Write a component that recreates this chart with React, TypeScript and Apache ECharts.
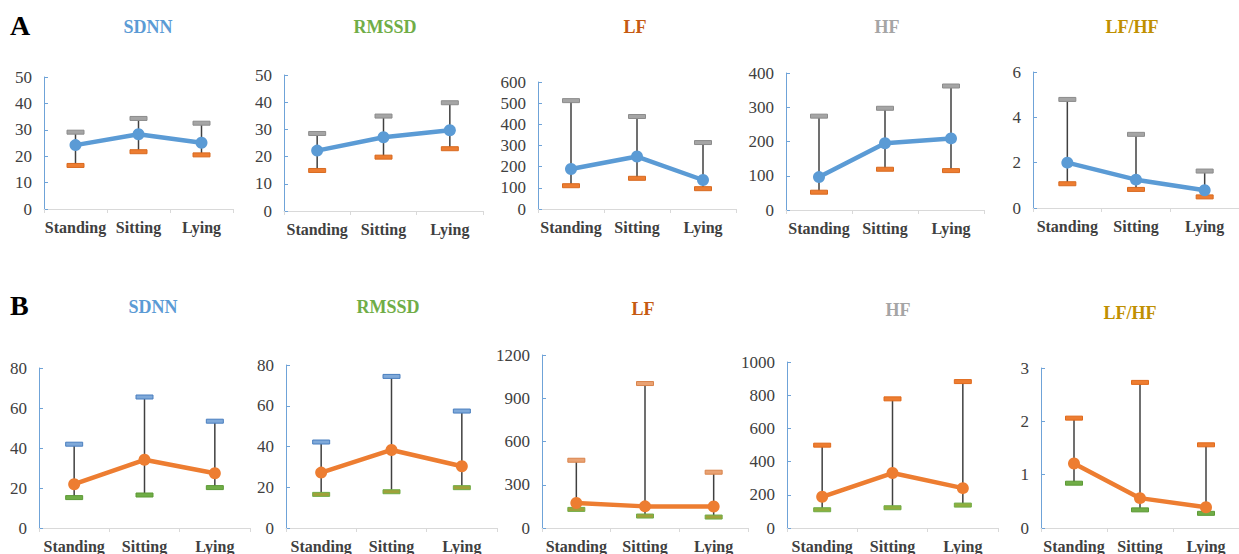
import React, { useEffect, useRef } from "react";
import * as echarts from "echarts";

const categories = ["Standing", "Sitting", "Lying"];

// Row A
const sdnnA = [24.2, 28.3, 25.1];
const sdnnAUpper = [29.1, 34.3, 32.5];
const sdnnALower = [16.5, 21.7, 20.5];
const rmssdA = [22.2, 27.1, 29.7];
const rmssdAUpper = [28.5, 34.9, 39.8];
const rmssdALower = [14.9, 19.8, 22.9];
const lfA = [189, 248, 137];
const lfAUpper = [512, 437, 314];
const lfALower = [110, 145, 96];
const hfA = [96, 195, 209];
const hfAUpper = [274, 297, 362];
const hfALower = [52, 119, 115];
const lfhfA = [2.0, 1.25, 0.78];
const lfhfAUpper = [4.79, 3.25, 1.63];
const lfhfALower = [1.07, 0.82, 0.49];

// Row B
const sdnnB = [21.9, 34.1, 27.4];
const sdnnBUpper = [41.9, 65.5, 53.4];
const sdnnBLower = [15.2, 16.5, 20.2];
const rmssdB = [27.2, 38.3, 30.3];
const rmssdBUpper = [42.2, 74.4, 57.4];
const rmssdBLower = [16.5, 17.8, 19.8];
const lfB = [173, 150, 149];
const lfBUpper = [470, 1002, 387];
const lfBLower = [129, 83, 76];
const hfB = [188, 331, 240];
const hfBUpper = [499, 778, 882];
const hfBLower = [110, 122, 138];
const lfhfB = [1.21, 0.56, 0.39];
const lfhfBUpper = [2.06, 2.73, 1.56];
const lfhfBLower = [0.84, 0.34, 0.275];

const titles = ["SDNN", "RMSSD", "LF", "HF", "LF/HF"];
const titleColors = ["#5b9bd5", "#70ad47", "#c55a11", "#a5a5a5", "#bf9000"];
const yMaxA = [50, 50, 600, 400, 6];
const yIntA = [10, 10, 100, 100, 2];
const yMaxB = [80, 80, 1200, 1000, 3];
const yIntB = [20, 20, 300, 200, 1];

const SERIF = "Liberation Serif";

type Panel = {
  grid: { left: number; top: number; width: number; height: number };
  title: { x: number; y: number };
  mean: number[];
  upper: number[];
  lower: number[];
  yMax: number;
  yInt: number;
  lineColor: string;
  upFill: string;
  upStroke: string;
  loFill: string;
  loStroke: string;
  titleIdx: number;
};

const panels: Panel[] = [
  { grid: { left: 44, top: 77, width: 189, height: 132 }, title: { x: 148, y: 27 }, mean: sdnnA, upper: sdnnAUpper, lower: sdnnALower, yMax: yMaxA[0], yInt: yIntA[0], lineColor: "#5b9bd5", upFill: "#a5a5a5", upStroke: "#8c8c8c", loFill: "#ed7d31", loStroke: "#d86a20", titleIdx: 0 },
  { grid: { left: 284, top: 75, width: 199, height: 136 }, title: { x: 385, y: 27 }, mean: rmssdA, upper: rmssdAUpper, lower: rmssdALower, yMax: yMaxA[1], yInt: yIntA[1], lineColor: "#5b9bd5", upFill: "#a5a5a5", upStroke: "#8c8c8c", loFill: "#ed7d31", loStroke: "#d86a20", titleIdx: 1 },
  { grid: { left: 538, top: 82, width: 198, height: 127 }, title: { x: 635, y: 27 }, mean: lfA, upper: lfAUpper, lower: lfALower, yMax: yMaxA[2], yInt: yIntA[2], lineColor: "#5b9bd5", upFill: "#a5a5a5", upStroke: "#8c8c8c", loFill: "#ed7d31", loStroke: "#d86a20", titleIdx: 2 },
  { grid: { left: 786, top: 73, width: 198, height: 137 }, title: { x: 887, y: 27 }, mean: hfA, upper: hfAUpper, lower: hfALower, yMax: yMaxA[3], yInt: yIntA[3], lineColor: "#5b9bd5", upFill: "#a5a5a5", upStroke: "#8c8c8c", loFill: "#ed7d31", loStroke: "#d86a20", titleIdx: 3 },
  { grid: { left: 1033, top: 72, width: 213, height: 136 }, title: { x: 1132, y: 27 }, mean: lfhfA, upper: lfhfAUpper, lower: lfhfALower, yMax: yMaxA[4], yInt: yIntA[4], lineColor: "#5b9bd5", upFill: "#a5a5a5", upStroke: "#8c8c8c", loFill: "#ed7d31", loStroke: "#d86a20", titleIdx: 4 },
  { grid: { left: 39, top: 368, width: 211, height: 160 }, title: { x: 153, y: 307 }, mean: sdnnB, upper: sdnnBUpper, lower: sdnnBLower, yMax: yMaxB[0], yInt: yIntB[0], lineColor: "#ed7d31", upFill: "#7fa9d9", upStroke: "#4a7fbf", loFill: "#70ad47", loStroke: "#5c9a35", titleIdx: 0 },
  { grid: { left: 286, top: 365, width: 211, height: 163 }, title: { x: 388, y: 307 }, mean: rmssdB, upper: rmssdBUpper, lower: rmssdBLower, yMax: yMaxB[1], yInt: yIntB[1], lineColor: "#ed7d31", upFill: "#7fa9d9", upStroke: "#4a7fbf", loFill: "#a0a13a", loStroke: "#70ad47", titleIdx: 1 },
  { grid: { left: 542, top: 355, width: 206, height: 174 }, title: { x: 643, y: 309 }, mean: lfB, upper: lfBUpper, lower: lfBLower, yMax: yMaxB[2], yInt: yIntB[2], lineColor: "#ed7d31", upFill: "#e9a273", upStroke: "#d9844c", loFill: "#a0a13a", loStroke: "#70ad47", titleIdx: 2 },
  { grid: { left: 787, top: 362, width: 211, height: 166 }, title: { x: 898, y: 310 }, mean: hfB, upper: hfBUpper, lower: hfBLower, yMax: yMaxB[3], yInt: yIntB[3], lineColor: "#ed7d31", upFill: "#ed7d31", upStroke: "#e06a1c", loFill: "#8fae3f", loStroke: "#70ad47", titleIdx: 3 },
  { grid: { left: 1041, top: 368, width: 211, height: 160 }, title: { x: 1130, y: 313 }, mean: lfhfB, upper: lfhfBUpper, lower: lfhfBLower, yMax: yMaxB[4], yInt: yIntB[4], lineColor: "#ed7d31", upFill: "#ed7d31", upStroke: "#e06a1c", loFill: "#70ad47", loStroke: "#5c9a35", titleIdx: 4 },
];

export default function App() {
  const ref = useRef<HTMLDivElement>(null);
  useEffect(() => {
    if (!ref.current) return;
    const chart = echarts.init(ref.current, undefined, { renderer: "svg" });

    const grids: any[] = [];
    const xAxes: any[] = [];
    const yAxes: any[] = [];
    const series: any[] = [];
    const graphics: any[] = [];

    panels.forEach((p, i) => {
      grids.push({ ...p.grid, containLabel: false });
      xAxes.push({
        type: "category",
        gridIndex: i,
        data: categories,
        boundaryGap: true,
        axisLine: { lineStyle: { color: "#d9d9d9", width: 1 } },
        axisTick: { show: true, length: 4, lineStyle: { color: "#d9d9d9" } },
        axisLabel: {
          fontFamily: SERIF,
          fontWeight: "bold",
          fontSize: 16,
          color: "#404040",
          margin: 10,
          interval: 0,
        },
      });
      yAxes.push({
        type: "value",
        gridIndex: i,
        min: 0,
        max: p.yMax,
        interval: p.yInt,
        splitLine: { show: false },
        axisLine: { show: true, lineStyle: { color: "#6fa3d8", width: 1 } },
        axisTick: { show: true, inside: true, length: 4, lineStyle: { color: "#6fa3d8" } },
        axisLabel: {
          fontFamily: SERIF,
          fontSize: 17,
          color: "#404040",
          margin: 12,
          formatter: (v: number) => String(v),
        },
      });
      const errData = categories.map((_, k) => [k, p.lower[k], p.upper[k]]);
      series.push({
        type: "custom",
        xAxisIndex: i,
        yAxisIndex: i,
        data: errData,
        encode: { x: 0, y: [1, 2] },
        z: 2,
        renderItem: (params: any, api: any) => {
          const idx = api.value(0);
          const lo = api.coord([idx, api.value(1)]);
          const up = api.coord([idx, api.value(2)]);
          const cw = 17;
          const ch = 4;
          return {
            type: "group",
            children: [
              {
                type: "line",
                shape: { x1: up[0], y1: up[1], x2: lo[0], y2: lo[1] },
                style: { stroke: "#404040", lineWidth: 1.5 },
              },
              {
                type: "rect",
                shape: { x: up[0] - cw / 2, y: up[1] - ch / 2, width: cw, height: ch },
                style: { fill: p.upFill, stroke: p.upStroke, lineWidth: 1 },
              },
              {
                type: "rect",
                shape: { x: lo[0] - cw / 2, y: lo[1] - ch / 2, width: cw, height: ch },
                style: { fill: p.loFill, stroke: p.loStroke, lineWidth: 1 },
              },
            ],
          };
        },
      });
      series.push({
        type: "line",
        xAxisIndex: i,
        yAxisIndex: i,
        data: p.mean,
        z: 3,
        symbol: "circle",
        symbolSize: 12,
        lineStyle: { color: p.lineColor, width: 4.5 },
        itemStyle: { color: p.lineColor },
      });
      graphics.push({
        type: "text",
        x: p.title.x,
        y: p.title.y,
        style: {
          text: titles[p.titleIdx],
          fill: titleColors[p.titleIdx],
          fontFamily: SERIF,
          fontWeight: "bold",
          fontSize: 18,
          textAlign: "center",
          textVerticalAlign: "middle",
        },
      });
    });

    graphics.push({
      type: "text",
      x: 10,
      y: 25,
      style: { text: "A", fill: "#000", fontFamily: SERIF, fontWeight: "bold", fontSize: 28, textVerticalAlign: "middle" },
    });
    graphics.push({
      type: "text",
      x: 10,
      y: 305,
      style: { text: "B", fill: "#000", fontFamily: SERIF, fontWeight: "bold", fontSize: 28, textVerticalAlign: "middle" },
    });

    chart.setOption({
      animation: false,
      backgroundColor: "#ffffff",
      textStyle: { fontFamily: SERIF },
      grid: grids,
      xAxis: xAxes,
      yAxis: yAxes,
      series,
      graphic: graphics,
    });
    return () => chart.dispose();
  }, []);
  return (
    <div
      ref={ref}
      style={{ position: "absolute", left: 0, top: 0, width: 1239, height: 554 }}
    />
  );
}
